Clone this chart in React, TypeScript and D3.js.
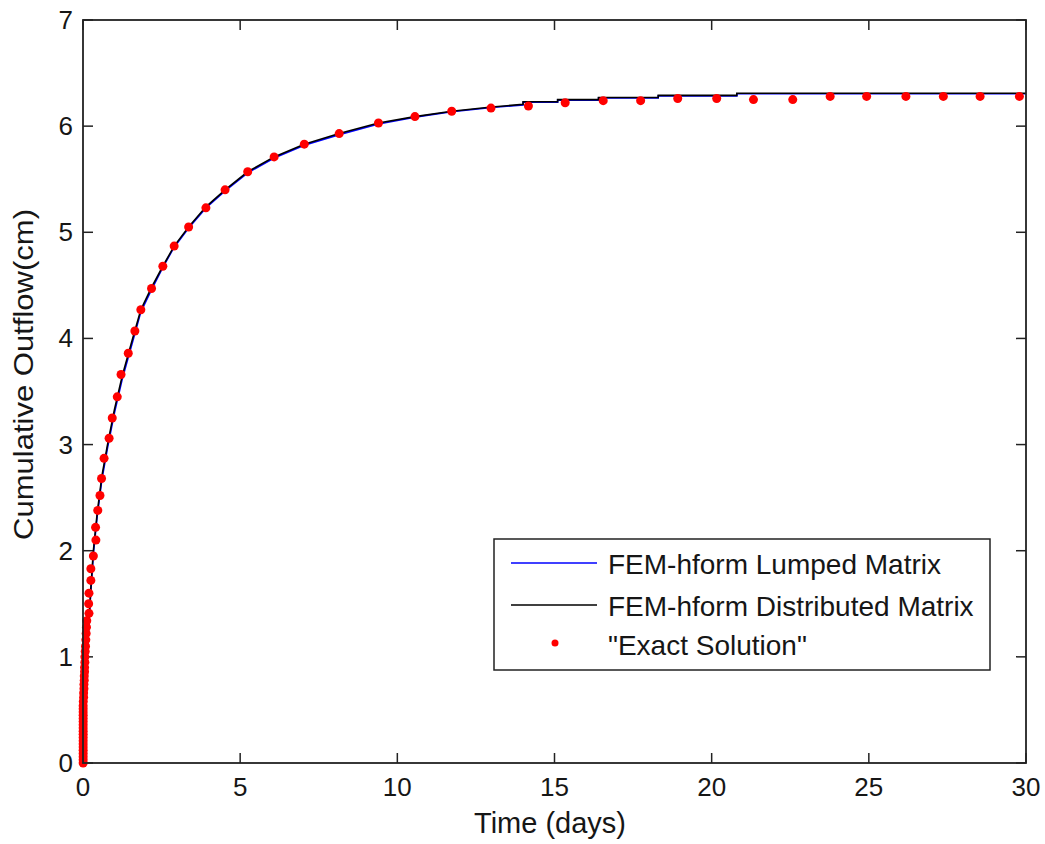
import React from "react";
import * as d3 from "d3";

// ---- data ----
const xTicks = [0, 5, 10, 15, 20, 25, 30];
const yTicks = [0, 1, 2, 3, 4, 5, 6, 7];

// FEM-hform Distributed Matrix (black)
const distT = [0, 0.03, 0.08, 0.12, 0.18, 0.25, 0.33, 0.45, 0.6, 0.78, 1.0, 1.25, 1.58, 1.84, 2.18, 2.54, 2.9, 3.36, 3.91, 4.52, 5.24, 6.08, 7.04, 8.15, 9.4, 10.56, 11.73, 13.0, 14.0, 14.0, 15.1, 15.1, 16.4, 16.4, 18.3, 18.3, 20.8, 20.8, 30];
const distY = [0, 0.4, 0.7, 1.0, 1.3, 1.65, 2.0, 2.35, 2.7, 3.0, 3.33, 3.65, 4.0, 4.27, 4.48, 4.68, 4.87, 5.05, 5.24, 5.4, 5.57, 5.71, 5.83, 5.93, 6.03, 6.09, 6.14, 6.18, 6.205, 6.23, 6.23, 6.25, 6.25, 6.27, 6.27, 6.29, 6.29, 6.31, 6.31];

// FEM-hform Lumped Matrix (blue)
const lumpT = [0, 0.03, 0.08, 0.12, 0.18, 0.25, 0.33, 0.45, 0.6, 0.78, 1.0, 1.25, 1.58, 1.84, 2.18, 2.54, 2.9, 3.36, 3.91, 4.52, 5.24, 6.08, 7.04, 8.15, 9.4, 10.56, 11.73, 13.0, 14.0, 14.0, 15.1, 15.1, 16.4, 16.4, 18.3, 18.3, 20.8, 20.8, 30];
const lumpY = [0, 0.38, 0.68, 0.98, 1.28, 1.62, 1.97, 2.32, 2.67, 2.97, 3.3, 3.62, 3.97, 4.25, 4.46, 4.67, 4.86, 5.04, 5.23, 5.39, 5.56, 5.7, 5.82, 5.92, 6.02, 6.085, 6.135, 6.175, 6.2, 6.225, 6.225, 6.245, 6.245, 6.265, 6.265, 6.285, 6.285, 6.305, 6.305];

// "Exact Solution" (red dots)
const exactT = [
  0.005, 0.005, 0.005, 0.005, 0.005, 0.005, 0.005, 0.005, 0.005, 0.005,
  0.005, 0.005, 0.005, 0.005, 0.005, 0.005, 0.005, 0.005, 0.005,
  0.01, 0.02, 0.02, 0.03, 0.03, 0.04, 0.04, 0.05, 0.05, 0.06, 0.06, 0.07, 0.08, 0.09, 0.1, 0.11, 0.12,
  0.19, 0.18, 0.19, 0.25, 0.25, 0.33, 0.41, 0.4, 0.47, 0.54, 0.59, 0.67, 0.83, 0.93, 1.09, 1.21, 1.44, 1.65, 1.84,
  2.18, 2.54, 2.9, 3.36, 3.91, 4.52, 5.24, 6.08, 7.04, 8.15, 9.4, 10.56, 11.73, 12.98, 14.17, 15.34,
  16.55, 17.74, 18.92, 20.16, 21.33, 22.58, 23.77, 24.93, 26.18, 27.37, 28.54, 29.79,
];
const exactY = [
  0, 0.03, 0.06, 0.09, 0.12, 0.15, 0.18, 0.21, 0.24, 0.27,
  0.3, 0.33, 0.36, 0.39, 0.42, 0.45, 0.48, 0.51, 0.54,
  0.58, 0.62, 0.66, 0.7, 0.74, 0.78, 0.82, 0.86, 0.9, 0.95, 1.0, 1.05, 1.1, 1.16, 1.22, 1.28, 1.34,
  1.41, 1.5, 1.6, 1.72, 1.83, 1.95, 2.1, 2.22, 2.38, 2.52, 2.68, 2.87, 3.06, 3.25, 3.45, 3.66, 3.86, 4.07, 4.27,
  4.47, 4.68, 4.87, 5.05, 5.23, 5.4, 5.57, 5.71, 5.83, 5.93, 6.03, 6.09, 6.14, 6.17, 6.19, 6.22,
  6.24, 6.24, 6.26, 6.26, 6.25, 6.25, 6.28, 6.28, 6.28, 6.28, 6.28, 6.28,
];

const legendLabels = ["FEM-hform Lumped Matrix", "FEM-hform Distributed Matrix", "\"Exact Solution\""];

const FONT = "'Liberation Sans', Arial, sans-serif";

export default function App() {
  const W = 1045, H = 844;
  const left = 83, right = 1026, top = 20, bottom = 763;
  const x = d3.scaleLinear().domain([0, 30]).range([left, right]);
  const y = d3.scaleLinear().domain([0, 7]).range([bottom, top]);
  const line = d3.line<[number, number]>().x(d => x(d[0])).y(d => y(d[1]));
  const distPts = distT.map((t, i) => [t, distY[i]] as [number, number]);
  const lumpPts = lumpT.map((t, i) => [t, lumpY[i]] as [number, number]);
  const tick = 10;
  const fs = 26;
  const lfs = 28;
  const axisColor = "#222";
  const textColor = "#161616";

  return (
    <svg width={W} height={H} style={{ position: "absolute", left: 0, top: 0, background: "#fff" }} fontFamily={FONT}>
      <rect x={0} y={0} width={W} height={H} fill="#fff" />
      {/* ticks */}
      {xTicks.map(t => (
        <g key={"xt" + t}>
          <line x1={x(t)} x2={x(t)} y1={bottom} y2={bottom - tick} stroke={axisColor} strokeWidth={1.5} />
          <line x1={x(t)} x2={x(t)} y1={top} y2={top + tick} stroke={axisColor} strokeWidth={1.5} />
          <text x={x(t)} y={bottom + 33} textAnchor="middle" fontSize={fs} fill={textColor}>{t}</text>
        </g>
      ))}
      {yTicks.map(t => (
        <g key={"yt" + t}>
          <line x1={left} x2={left + tick} y1={y(t)} y2={y(t)} stroke={axisColor} strokeWidth={1.5} />
          <line x1={right} x2={right - tick} y1={y(t)} y2={y(t)} stroke={axisColor} strokeWidth={1.5} />
          <text x={left - 10} y={y(t) + 9} textAnchor="end" fontSize={fs} fill={textColor}>{t}</text>
        </g>
      ))}
      {/* lines */}
      <path d={line(lumpPts) || ""} fill="none" stroke="#0000ff" strokeWidth={1.6} />
      <path d={line(distPts) || ""} fill="none" stroke="#000" strokeWidth={1.6} />
      {/* exact dots */}
      {exactT.map((t, i) => (
        <circle key={"e" + i} cx={x(t)} cy={y(exactY[i])} r={4.5} fill="#ff0000" />
      ))}
      {/* box */}
      <rect x={left} y={top} width={right - left} height={bottom - top} fill="none" stroke={axisColor} strokeWidth={1.8} />
      {/* axis labels */}
      <text x={550} y={833} textAnchor="middle" fontSize={29} fill={textColor}>Time (days)</text>
      <text transform={`translate(33,${(top + bottom) / 2 - 17}) rotate(-90) scale(1.15,1)`} textAnchor="middle" fontSize={27} fill={textColor}>Cumulative Outflow(cm)</text>
      {/* legend */}
      <g>
        <rect x={494} y={539} width={496} height={131} fill="#fff" stroke={axisColor} strokeWidth={1.5} />
        <line x1={511} x2={597} y1={563} y2={563} stroke="#0000ff" strokeWidth={1.6} />
        <text x={608} y={574} fontSize={lfs} fill={textColor}>{legendLabels[0]}</text>
        <line x1={511} x2={597} y1={605} y2={605} stroke="#000" strokeWidth={1.6} />
        <text x={608} y={616} fontSize={lfs} fill={textColor}>{legendLabels[1]}</text>
        <circle cx={555} cy={643} r={3.5} fill="#ff0000" />
        <text x={608} y={655} fontSize={lfs} fill={textColor}>{legendLabels[2]}</text>
      </g>
    </svg>
  );
}
